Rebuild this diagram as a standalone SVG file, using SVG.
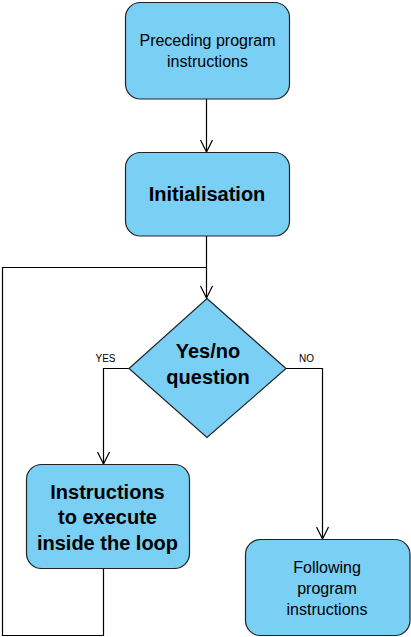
<svg xmlns="http://www.w3.org/2000/svg" width="411" height="637" viewBox="0 0 411 637">
<style>
.node{fill:#7acff5;stroke:#222;stroke-width:1.2}
.edge{fill:none;stroke:#000;stroke-width:1.2}
.t{font-family:"Liberation Sans",Arial,sans-serif;text-anchor:middle;fill:#000}
.n{font-size:16px}
.b{font-size:20px;font-weight:bold}
.l{font-size:10px}
</style>
<defs>
<marker id="arr" viewBox="0 0 14 14" refX="13" refY="7" markerWidth="14" markerHeight="14" markerUnits="userSpaceOnUse" orient="auto">
<path d="M1,1 L13,7 L1,13" fill="none" stroke="#000" stroke-width="1.2"/>
</marker>
</defs>
<rect width="411" height="637" fill="#fff"/>
<g id="connectors">
<line class="edge" x1="206.5" y1="99" x2="206.5" y2="152" marker-end="url(#arr)"/>
<line class="edge" x1="206.5" y1="236" x2="206.5" y2="298" marker-end="url(#arr)"/>
<polyline class="edge" points="129,368.5 103.5,368.5 103.5,464" marker-end="url(#arr)"/>
<polyline class="edge" points="286,368.5 322.5,368.5 322.5,539" marker-end="url(#arr)"/>
<polyline class="edge" points="103.5,568.5 103.5,635.5 2.5,635.5 2.5,267.5 206.5,267.5"/>
<text class="t l" x="105.5" y="362">YES</text>
<text class="t l" x="306.5" y="362">NO</text>
</g>
<g id="preceding">
<rect class="node" x="125.5" y="2.5" width="164" height="96.5" rx="15"/>
<text class="t n" x="207.5" y="46">Preceding program</text>
<text class="t n" x="207.5" y="67">instructions</text>
</g>
<g id="initialisation">
<rect class="node" x="125.5" y="152.5" width="164" height="83.5" rx="15"/>
<text class="t b" x="207" y="201">Initialisation</text>
</g>
<g id="question">
<polygon class="node" points="207,298.5 286,368.5 207,437.5 129,368.5"/>
<text class="t b" x="208" y="357.5">Yes/no</text>
<text class="t b" x="208" y="384">question</text>
</g>
<g id="loop-body">
<rect class="node" x="26.5" y="464.5" width="163" height="104" rx="15"/>
<text class="t b" x="107.5" y="498.5">Instructions</text>
<text class="t b" x="107.5" y="524">to execute</text>
<text class="t b" x="107.5" y="549.5">inside the loop</text>
</g>
<g id="following">
<rect class="node" x="245.5" y="539.5" width="164.5" height="96" rx="15"/>
<text class="t n" x="327" y="573">Following</text>
<text class="t n" x="327" y="594">program</text>
<text class="t n" x="327" y="615">instructions</text>
</g>
</svg>
